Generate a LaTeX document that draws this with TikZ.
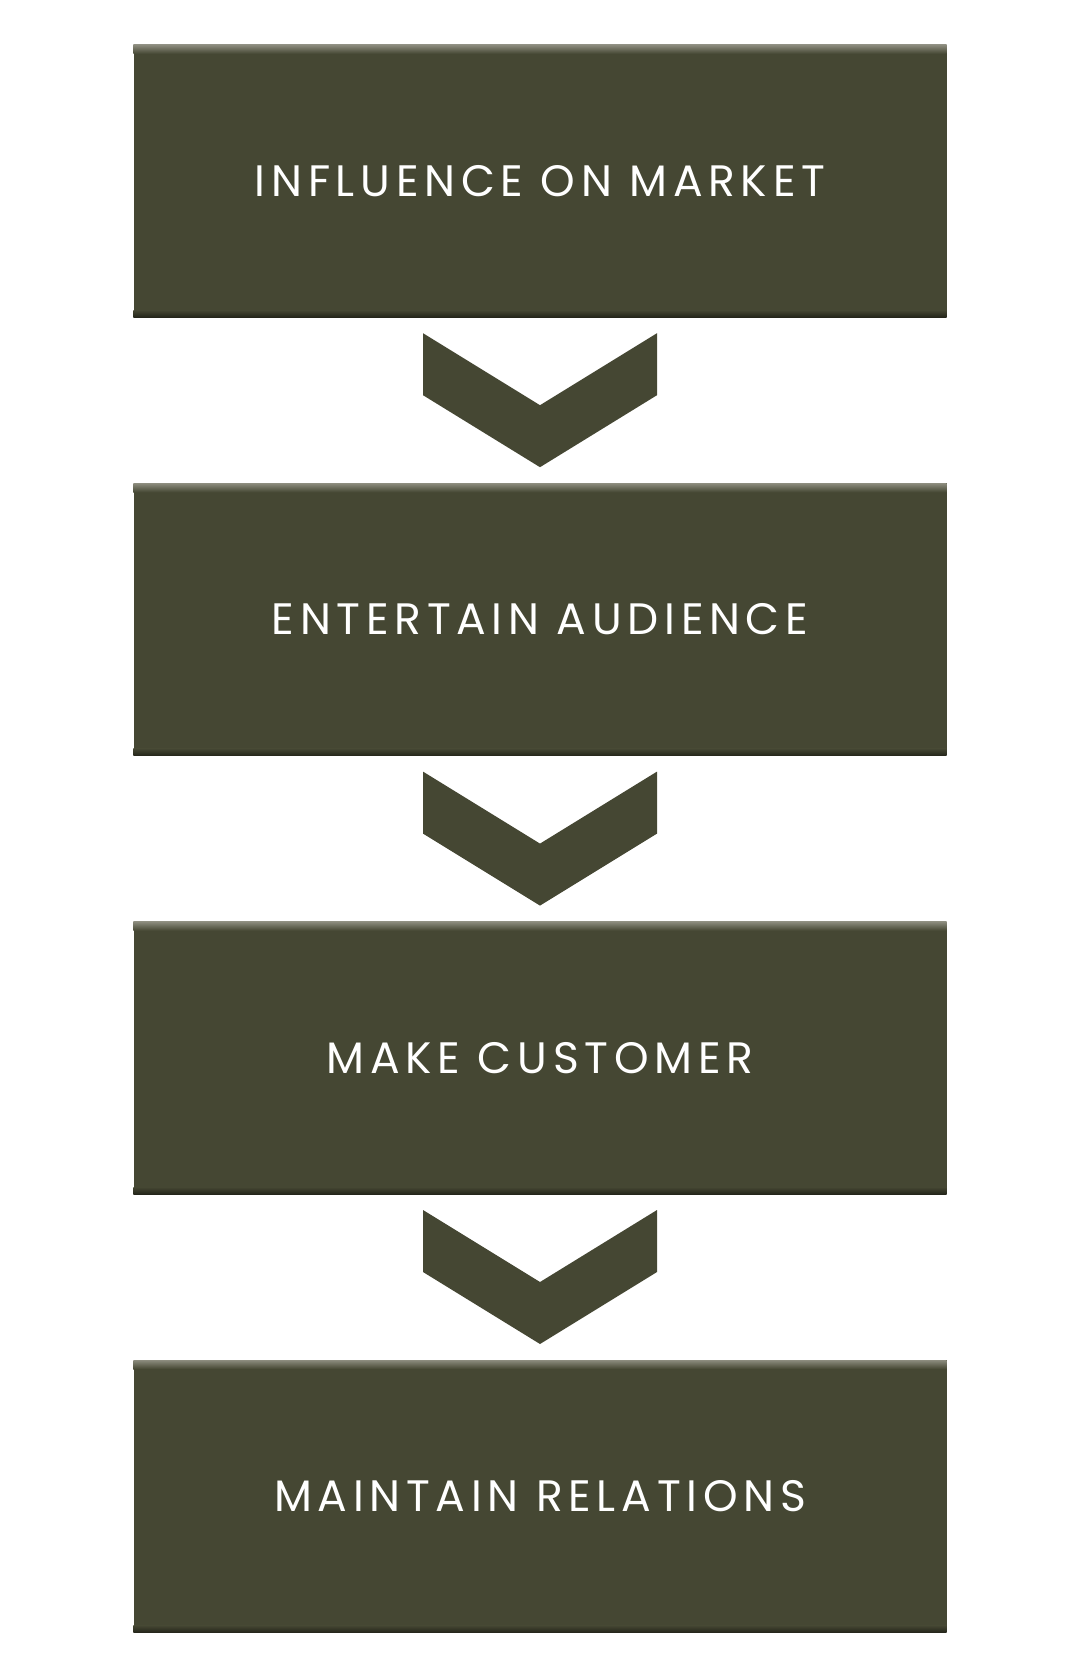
\documentclass[tikz,border=0pt]{standalone}
\usepackage{fontspec}
\newfontfamily\boxfont[LetterSpace=13]{Poppins}
\usetikzlibrary{positioning, calc}
\definecolor{olive}{HTML}{454733}
\definecolor{oliveLight}{HTML}{8C8C7E}
\definecolor{oliveDark}{HTML}{24251A}

\tikzset{
  stage/.style={fill=olive, minimum width=813pt, minimum height=272pt, inner sep=0pt,
    text=white, font=\boxfont\fontsize{44}{48}\selectfont},
}

\begin{document}
\begin{tikzpicture}[x=1pt, y=1pt]
      \useasboundingbox (0, 0) rectangle (1080, -1680);

      \node[stage] (infl) at (540, -181) {INFLUENCE ON MARKET};
      \node[stage, below=166pt of infl] (ent) {ENTERTAIN AUDIENCE};
      \node[stage, below=166pt of ent] (cust) {MAKE CUSTOMER};
      \node[stage, below=166pt of cust] (maint) {MAINTAIN RELATIONS};

      \foreach \b in {infl, ent, cust, maint} {
        \shade[top color=oliveLight, bottom color=olive] (\b.north west) rectangle ($(\b.north east) + (0, -9)$);
        \shade[top color=olive, bottom color=oliveDark] ($(\b.south west) + (0, 7)$) rectangle (\b.south east);
      }

      \foreach \a/\b in {infl/ent, ent/cust, cust/maint}
        \fill[olive] ($(\a.south) + (-117, -16)$) -- ($(\a.south) + (0, -88)$) -- ($(\a.south) + (117, -16)$)
          -- ($(\a.south) + (117, -78)$) -- ($(\a.south) + (0, -150)$) -- ($(\a.south) + (-117, -78)$) -- cycle;

    \end{tikzpicture}
\end{document}
